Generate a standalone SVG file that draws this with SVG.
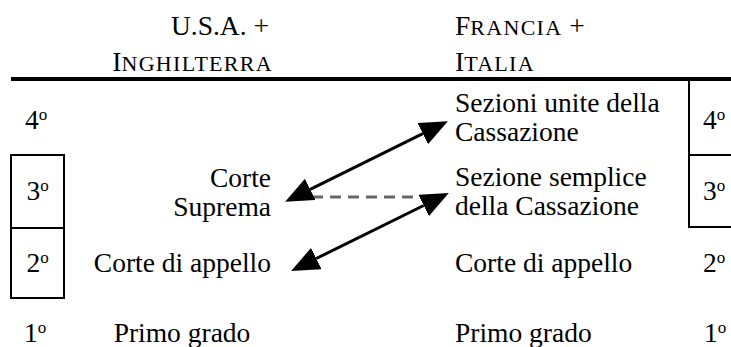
<svg xmlns="http://www.w3.org/2000/svg" width="731" height="347" viewBox="0 0 731 347">
<style>
text{font-family:"Liberation Serif","Times New Roman",serif;font-size:27.5px;fill:#000}
.sc{font-size:22px;letter-spacing:1.3px}
.sup{font-size:17px}
.box{fill:none;stroke:#000;stroke-width:2}
.arrow{fill:none;stroke:#000;stroke-width:3;marker-start:url(#head);marker-end:url(#head)}
.dash{fill:none;stroke:#666;stroke-width:3;stroke-dasharray:11 7}
</style>
<defs>
<marker id="head" markerUnits="userSpaceOnUse" markerWidth="28" markerHeight="24" viewBox="0 0 26 22" refX="0" refY="11" orient="auto-start-reverse">
<path d="M0,0 L26,11 L0,22 Z" fill="#000"/>
</marker>
</defs>
<rect width="731" height="347" fill="#fff"/>
<g id="header-left">
<text x="269" y="35" text-anchor="end">U.S.A. +</text>
<text x="273" y="71" text-anchor="end">I<tspan class="sc">NGHILTERRA</tspan></text>
</g>
<g id="header-right">
<text x="455" y="35">F<tspan class="sc">RANCIA</tspan> +</text>
<text x="455" y="71">I<tspan class="sc">TALIA</tspan></text>
</g>
<line id="rule" x1="11" y1="79" x2="731" y2="79" stroke="#000" stroke-width="4"/>
<g id="grades-left">
<text x="25" y="129">4<tspan class="sup" dy="-9">o</tspan></text>
<rect class="box" x="11" y="155" width="53" height="143"/>
<line class="box" x1="11" y1="228" x2="64" y2="228"/>
<text x="37.5" y="200" text-anchor="middle">3<tspan class="sup" dy="-9">o</tspan></text>
<text x="37.5" y="272" text-anchor="middle">2<tspan class="sup" dy="-9">o</tspan></text>
<text x="24" y="342">1<tspan class="sup" dy="-9">o</tspan></text>
</g>
<g id="grades-right">
<path class="box" d="M731,155 H689 M689,79 V227 H731"/>
<text x="703" y="129">4<tspan class="sup" dy="-9">o</tspan></text>
<text x="703" y="200">3<tspan class="sup" dy="-9">o</tspan></text>
<text x="703" y="272">2<tspan class="sup" dy="-9">o</tspan></text>
<text x="704" y="342">1<tspan class="sup" dy="-9">o</tspan></text>
</g>
<g id="corte-suprema">
<text x="271" y="187" text-anchor="end">Corte</text>
<text x="271" y="216" text-anchor="end">Suprema</text>
</g>
<g id="corte-appello-usa">
<text x="271" y="272" text-anchor="end">Corte di appello</text>
</g>
<g id="primo-grado-usa">
<text x="182" y="342" text-anchor="middle">Primo grado</text>
</g>
<g id="sezioni-unite">
<text x="455" y="112">Sezioni unite della</text>
<text x="455" y="141">Cassazione</text>
</g>
<g id="sezione-semplice">
<text x="455" y="186">Sezione semplice</text>
<text x="455" y="215">della Cassazione</text>
</g>
<g id="corte-appello-it">
<text x="455" y="272">Corte di appello</text>
</g>
<g id="primo-grado-it">
<text x="455" y="342">Primo grado</text>
</g>
<g id="connectors">
<line class="dash" x1="312" y1="197" x2="432" y2="197"/>
<line class="arrow" x1="310.2" y1="189.4" x2="422.8" y2="133.6"/>
<line class="arrow" x1="316.3" y1="258.5" x2="423.7" y2="205.5"/>
</g>
</svg>
